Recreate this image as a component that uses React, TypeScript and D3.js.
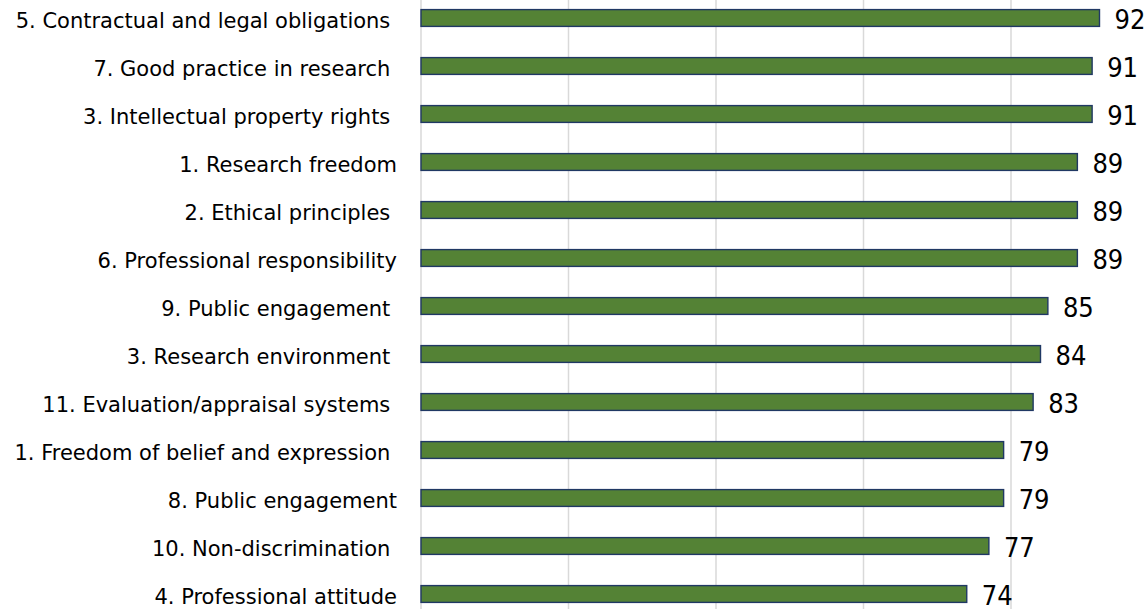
import React from "react";
import * as d3 from "d3";

const categories = [
  "5. Contractual and legal obligations ",
  "7. Good practice in research ",
  "3. Intellectual property rights ",
  "1. Research freedom",
  "2. Ethical principles ",
  "6. Professional responsibility",
  "9. Public engagement ",
  "3. Research environment ",
  "11. Evaluation/appraisal systems ",
  "1. Freedom of belief and expression ",
  "8. Public engagement",
  "10. Non-discrimination ",
  "4. Professional attitude",
];
const values = [92, 91, 91, 89, 89, 89, 85, 84, 83, 79, 79, 77, 74];
const gridTicks = [0, 20, 40, 60, 80, 100];

const W = 1148;
const H = 609;
const FONT = "'DejaVu Sans', sans-serif";
const VFONT = "'DejaVu Sans Condensed', 'DejaVu Sans', sans-serif";

export default function App() {
  const x = d3.scaleLinear().domain([0, 100]).range([421, 1158.5]);
  const y = d3
    .scaleBand<string>()
    .domain(categories.map((c, i) => i + ""))
    .range([-6, -6 + 48 * 13])
    .paddingInner(0.65)
    .paddingOuter(0.325);
  const bh = y.bandwidth();
  return (
    <svg
      width={W}
      height={H}
      style={{ position: "absolute", left: 0, top: 0, background: "#fff" }}
    >
      {gridTicks.map((t) => (
        <line
          key={t}
          x1={x(t)}
          x2={x(t)}
          y1={0}
          y2={H}
          stroke="#d9d9d9"
          strokeWidth={1.5}
        />
      ))}
      {values.map((v, i) => {
        const yy = y(i + "")!;
        const cy = yy + bh / 2;
        return (
          <g key={i}>
            <rect
              x={x(0)}
              y={yy}
              width={x(v) - x(0)}
              height={bh}
              fill="#548235"
              stroke="#203864"
              strokeWidth={1.4}
            />
            <text
              x={397}
              y={cy + 9.5}
              textAnchor="end"
              fontFamily={FONT}
              fontSize={21}
              fill="#000"
              style={{ whiteSpace: "pre" }}
            >
              {categories[i]}
            </text>
            <text
              x={x(v) + 15}
              y={cy + 11}
              textAnchor="start"
              fontFamily={VFONT}
              fontSize={27}
              fill="#000"
              style={{ fontStretch: "condensed" }}
            >
              {v}
            </text>
          </g>
        );
      })}
    </svg>
  );
}
